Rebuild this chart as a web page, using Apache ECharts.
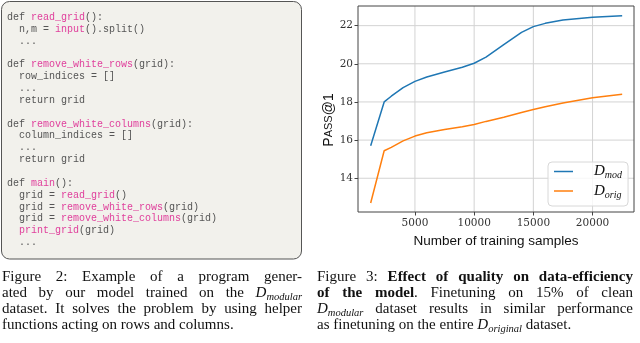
<!DOCTYPE html>
<html>
<head>
<meta charset="utf-8">
<script src="https://cdn.jsdelivr.net/npm/echarts@6/dist/echarts.min.js"></script>
<style>
html,body{margin:0;padding:0;background:#fff;}
#chart{width:640px;height:343px;}
</style>
</head>
<body>
<div id="chart"></div>
<script>
// ---- Data ----
const trainingSamples = [1260, 2400, 3000, 4000, 5000, 6000, 7500, 9000, 10000, 11000, 12500, 14000, 15000, 16000, 17500, 20000, 22500];
const modValues  = [15.7, 18.0, 18.3, 18.75, 19.08, 19.31, 19.57, 19.82, 20.03, 20.35, 21.0, 21.65, 21.95, 22.12, 22.3, 22.44, 22.52];
const origValues = [12.7, 15.44, 15.62, 15.96, 16.21, 16.38, 16.56, 16.7, 16.82, 16.98, 17.2, 17.45, 17.6, 17.75, 17.95, 18.22, 18.4];
const seriesNames = ['D_mod', 'D_orig'];
const xTickValues = [5000, 10000, 15000, 20000];
const yTickValues = [14, 16, 18, 20, 22];
const xRange = [190, 23500];
const yRange = [12.23, 23.03];

const codeLines = [
  [['def ', 'n'], ['read_grid', 'p'], ['():', 'n']],
  [['  n,m = ', 'n'], ['input', 'p'], ['().split()', 'n']],
  [['  ...', 'n']],
  [],
  [['def ', 'n'], ['remove_white_rows', 'p'], ['(grid):', 'n']],
  [['  row_indices = []', 'n']],
  [['  ...', 'n']],
  [['  return grid', 'n']],
  [],
  [['def ', 'n'], ['remove_white_columns', 'p'], ['(grid):', 'n']],
  [['  column_indices = []', 'n']],
  [['  ...', 'n']],
  [['  return grid', 'n']],
  [],
  [['def ', 'n'], ['main', 'p'], ['():', 'n']],
  [['  grid = ', 'n'], ['read_grid', 'p'], ['()', 'n']],
  [['  grid = ', 'n'], ['remove_white_rows', 'p'], ['(grid)', 'n']],
  [['  grid = ', 'n'], ['remove_white_columns', 'p'], ['(grid)', 'n']],
  [['  ', 'n'], ['print_grid', 'p'], ['(grid)', 'n']],
  [['  ...', 'n']]
];

// caption words: each word = list of runs [text, kind]; kinds: n normal, b bold, m math D, s subscript
const caption2 = [
  {justify: true, words: [[['Figure','n']],[['2:','n']],[['Example','n']],[['of','n']],[['a','n']],[['program','n']],[['gener-','n']]]},
  {justify: true, words: [[['ated','n']],[['by','n']],[['our','n']],[['model','n']],[['trained','n']],[['on','n']],[['the','n']],[['D','m'],['modular','s']]]},
  {justify: true, words: [[['dataset.','n']],[['It','n']],[['solves','n']],[['the','n']],[['problem','n']],[['by','n']],[['using','n']],[['helper','n']]]},
  {justify: false, words: [[['functions','n']],[['acting','n']],[['on','n']],[['rows','n']],[['and','n']],[['columns.','n']]]}
];
const caption3 = [
  {justify: true, words: [[['Figure','n']],[['3:','n']],[['Effect','b']],[['of','b']],[['quality','b']],[['on','b']],[['data-efficiency','b']]]},
  {justify: true, words: [[['of','b']],[['the','b']],[['model','b'],['.','n']],[['Finetuning','n']],[['on','n']],[['15%','n']],[['of','n']],[['clean','n']]]},
  {justify: true, words: [[['D','m'],['modular','s']],[['dataset','n']],[['results','n']],[['in','n']],[['similar','n']],[['performance','n']]]},
  {justify: false, words: [[['as','n']],[['finetuning','n']],[['on','n']],[['the','n']],[['entire','n']],[['D','m'],['original','s']],[['dataset.','n']]]}
];

// ---- Rendering helpers ----
const SERIF = '"Liberation Serif", "Times New Roman", serif';
const SANS = '"Liberation Sans", Arial, sans-serif';
const fonts = {
  n: '15px ' + SERIF,
  b: 'bold 15px ' + SERIF,
  m: 'italic 15px ' + SERIF,
  s: 'italic 10.5px ' + SERIF
};
const cv = document.createElement('canvas').getContext('2d');
function measure(t, kind) { cv.font = fonts[kind]; return cv.measureText(t).width; }

function captionElements(lines, left, right, y0, dy) {
  const els = [];
  lines.forEach((line, li) => {
    const y = y0 + li * dy;
    const widths = line.words.map(w => w.reduce((a, r) => a + measure(r[0], r[1]), 0));
    const total = widths.reduce((a, b) => a + b, 0);
    const gap = line.justify ? (right - left - total) / (line.words.length - 1) : measure(' ', 'n');
    let x = left;
    line.words.forEach((w, wi) => {
      let cx = x;
      w.forEach(r => {
        els.push({
          type: 'text', silent: true,
          style: {
            text: r[0], x: cx, y: r[1] === 's' ? y + 4 : y,
            font: fonts[r[1]], fill: '#111', align: 'left', verticalAlign: 'middle'
          }
        });
        cx += measure(r[0], r[1]);
      });
      x += widths[wi] + gap;
    });
  });
  return els;
}

function codeElements() {
  const els = [];
  const monoFont = '10px "Liberation Mono", "Courier New", monospace';
  cv.font = monoFont;
  codeLines.forEach((line, i) => {
    const y = 17.3 + i * 11.85;
    let x = 7;
    line.forEach(run => {
      els.push({
        type: 'text', silent: true,
        style: { text: run[0], x: x, y: y, font: monoFont, fill: run[1] === 'p' ? '#e0409c' : '#555',
                 align: 'left', verticalAlign: 'middle' }
      });
      x += cv.measureText(run[0]).width;
    });
  });
  return els;
}

const chart = echarts.init(document.getElementById('chart'));

const graphics = [
  { type: 'rect', silent: true, z: -1,
    shape: { x: 1.5, y: 1.5, width: 300, height: 257.5, r: 8 },
    style: { fill: '#f2f1ec', stroke: '#555', lineWidth: 1 } }
].concat(codeElements())
 .concat(captionElements(caption2, 2, 302, 277, 16))
 .concat(captionElements(caption3, 317, 633, 277, 16));

const legendLabel = { D_mod: '{d|D}{s|mod}', D_orig: '{d|D}{s|orig}' };

const gridStyle = { color: '#d3d3d3', width: 1 };
const gridSeries = xTickValues.map(v => ({
  name: 'vgrid' + v, type: 'line', silent: true, z: 1, showSymbol: false, animation: false,
  data: [[v, yRange[0]], [v, yRange[1]]], lineStyle: gridStyle, itemStyle: { color: gridStyle.color }
})).concat(yTickValues.map(v => ({
  name: 'hgrid' + v, type: 'line', silent: true, z: 1, showSymbol: false, animation: false,
  data: [[xRange[0], v], [xRange[1], v]], lineStyle: gridStyle, itemStyle: { color: gridStyle.color }
})));

const option = {
  animation: false,
  backgroundColor: '#fff',
  graphic: graphics,
  grid: { left: 358, top: 6, width: 276, height: 206, show: true, borderColor: '#444', borderWidth: 1, backgroundColor: 'transparent', z: 5 },
  xAxis: {
    type: 'value', min: xRange[0], max: xRange[1],
    axisLine: { show: false },
    axisTick: { show: true, customValues: xTickValues, length: 3.5, lineStyle: { color: '#444' } },
    axisLabel: { show: true, customValues: xTickValues, margin: 6, formatter: v => String(v),
                 fontFamily: '"DejaVu Serif", serif', fontSize: 10.5, color: '#333' },
    splitLine: { show: false },
    name: 'Number of training samples', nameLocation: 'middle', nameGap: 16,
    nameTextStyle: { fontFamily: SANS, fontSize: 13.5, color: '#111' }
  },
  yAxis: {
    type: 'value', min: yRange[0], max: yRange[1],
    axisLine: { show: false },
    axisTick: { show: true, customValues: yTickValues, length: 3.5, lineStyle: { color: '#444' } },
    axisLabel: { show: true, customValues: yTickValues, margin: 5, formatter: v => String(v),
                 fontFamily: '"DejaVu Serif", serif', fontSize: 10.5, color: '#333' },
    splitLine: { show: false },
    name: '{big|P}{sm|ASS}{big|@1}', nameLocation: 'middle', nameGap: 22, nameRotate: 90,
    nameTextStyle: {
      fontFamily: SANS, fontSize: 14, color: '#111',
      padding: [0, 22, 0, 0],
      rich: {
        big: { fontFamily: SANS, fontSize: 14, color: '#111' },
        sm: { fontFamily: SANS, fontSize: 11, color: '#111' }
      }
    }
  },
  legend: {
    orient: 'vertical', left: 548, top: 162, z: 10,
    padding: [2, 6, 6, 6], itemGap: 3, itemWidth: 19, itemHeight: 1.5, icon: 'rect',
    backgroundColor: 'rgba(255,255,255,0.8)', borderColor: '#d8d8d8', borderWidth: 1, borderRadius: 4,
    data: seriesNames,
    formatter: name => legendLabel[name],
    textStyle: {
      padding: [0, 0, 0, 16],
      rich: {
        d: { fontFamily: SERIF, fontStyle: 'italic', fontSize: 15, color: '#111' },
        s: { fontFamily: SERIF, fontStyle: 'italic', fontSize: 10, color: '#111', padding: [8, 0, 0, 0] }
      }
    }
  },
  series: gridSeries.concat([
    {
      name: seriesNames[0], type: 'line', z: 3, showSymbol: false,
      data: trainingSamples.map((x, i) => [x, modValues[i]]),
      lineStyle: { color: '#1f77b4', width: 1.5 }, itemStyle: { color: '#1f77b4' }
    },
    {
      name: seriesNames[1], type: 'line', z: 3, showSymbol: false,
      data: trainingSamples.map((x, i) => [x, origValues[i]]),
      lineStyle: { color: '#ff7f0e', width: 1.5 }, itemStyle: { color: '#ff7f0e' }
    }
  ])
};
chart.setOption(option);
</script>
</body>
</html>
